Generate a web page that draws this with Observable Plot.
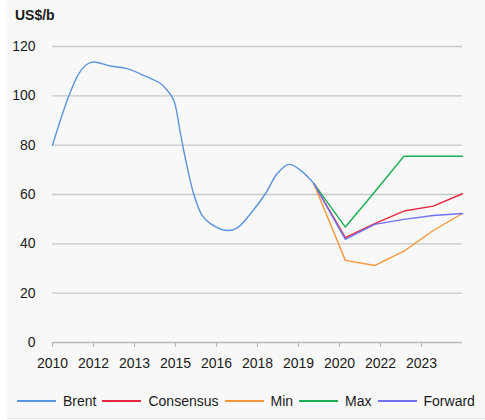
<!DOCTYPE html>
<html><head><meta charset="utf-8">
<script src="https://cdn.jsdelivr.net/npm/d3@7"></script>
<script src="https://cdn.jsdelivr.net/npm/@observablehq/plot@0.6"></script>
<style>
body{margin:0;background:#fff;font-family:"Liberation Sans",Arial,sans-serif;}
#panel{position:relative;margin-left:7px;width:478px;height:418px;background:#f8f8f8;border-bottom:1px solid #e4e4e4;overflow:hidden;}
#chart{position:absolute;left:0;top:0;}
#title{position:absolute;left:8px;top:7px;font-weight:bold;font-size:14px;line-height:16px;color:#1a1a1a;}
#legend{position:absolute;top:392px;left:10px;display:flex;align-items:center;white-space:nowrap;font-size:14px;line-height:18px;color:#1a1a1a;}
.sw{display:inline-block;width:39px;height:1.5px;margin-right:7px;}
.lb{margin-right:6px;}
</style></head><body>
<div id="panel"><div id="chart"></div><div id="title">US$/b</div><div id="legend"></div></div>
<script>
// X tick positions (in years) and their labels
const xTickPositions = [2010, 2011.4, 2012.8, 2014.2, 2015.6, 2017, 2018.4, 2019.8, 2021.2, 2022.6];
const xLabels = ["2010","2012","2013","2015","2016","2018","2019","2020","2022","2023"];
const yTicks = [0, 20, 40, 60, 80, 100, 120];

// Brent history
const brentYears  = [2010.0, 2010.56, 2010.9, 2011.18, 2011.41, 2011.98, 2012.55, 2013.11, 2013.69, 2013.92, 2014.14, 2014.37, 2014.54, 2014.82, 2015.11, 2015.39, 2015.96, 2016.31, 2016.76, 2017.27, 2017.67, 2018.07, 2018.47, 2018.92];
const brentValues = [80, 100, 109, 112.8, 113.7, 112.1, 111, 108.3, 105, 102.2, 98.2, 84.7, 74.5, 60.3, 51.5, 48.2, 45.4, 46.5, 52.2, 60.3, 68.4, 72.2, 69.8, 64.5];

// Forecasts
const forecastYears   = [2018.92, 2020, 2021, 2022, 2023, 2024];
const consensusValues = [64.5, 42.5, 48.2, 53.3, 55.3, 60.3];
const minValues       = [64.5, 33.3, 31.2, 37.0, 45.4, 52.3];
const maxValues       = [64.5, 46.8, 61.0, 75.5, 75.5, 75.5];
const forwardValues   = [64.5, 41.8, 47.9, 49.9, 51.5, 52.3];

const seriesNames  = ["Brent", "Consensus", "Min", "Max", "Forward"];
const seriesColors = ["#5b93dd", "#e8263c", "#f7963c", "#1aaf54", "#7272f2"];

const brent = brentYears.map((x, i) => ({x, y: brentValues[i], s: "Brent"}));
const fc = [];
[["Consensus", consensusValues], ["Min", minValues], ["Max", maxValues], ["Forward", forwardValues]]
  .forEach(([s, vals]) => forecastYears.forEach((x, i) => fc.push({x, y: vals[i], s})));

const chart = Plot.plot({
  width: 478,
  height: 380,
  marginLeft: 45,
  marginRight: 23,
  marginTop: 46,
  marginBottom: 38,
  style: {fontSize: "14px", fontFamily: "Liberation Sans, Arial, sans-serif", color: "#1a1a1a", background: "transparent", overflow: "visible"},
  x: {domain: [2010, 2024], label: null},
  y: {domain: [0, 120], label: null},
  color: {domain: seriesNames, range: seriesColors},
  marks: [
    Plot.gridY(yTicks.filter(d => d > 0), {stroke: "#c8c8c8", strokeOpacity: 1, strokeWidth: 1.4}),
    Plot.ruleY([0], {stroke: "#b8b8b8", strokeWidth: 1.4}),
    Plot.axisY({ticks: yTicks, tickSize: 0, tickPadding: 17, fill: "#1a1a1a", label: null}),
    Plot.axisX({ticks: xTickPositions, tickFormat: d => xLabels[xTickPositions.indexOf(d)], tickSize: 5, tickPadding: 11, stroke: "#b8b8b8", strokeWidth: 1.2, fill: "#1a1a1a", label: null}),
    Plot.line(fc, {x: "x", y: "y", z: "s", stroke: "s", strokeWidth: 1.4}),
    Plot.line(brent, {x: "x", y: "y", stroke: "s", strokeWidth: 1.4, curve: "catmull-rom"})
  ]
});
document.getElementById("chart").appendChild(chart);

const legend = document.getElementById("legend");
seriesNames.forEach((n, i) => {
  const sw = document.createElement("span");
  sw.className = "sw"; sw.style.backgroundColor = seriesColors[i];
  const lb = document.createElement("span");
  lb.className = "lb"; lb.textContent = n;
  legend.appendChild(sw); legend.appendChild(lb);
});
</script>
</body></html>
